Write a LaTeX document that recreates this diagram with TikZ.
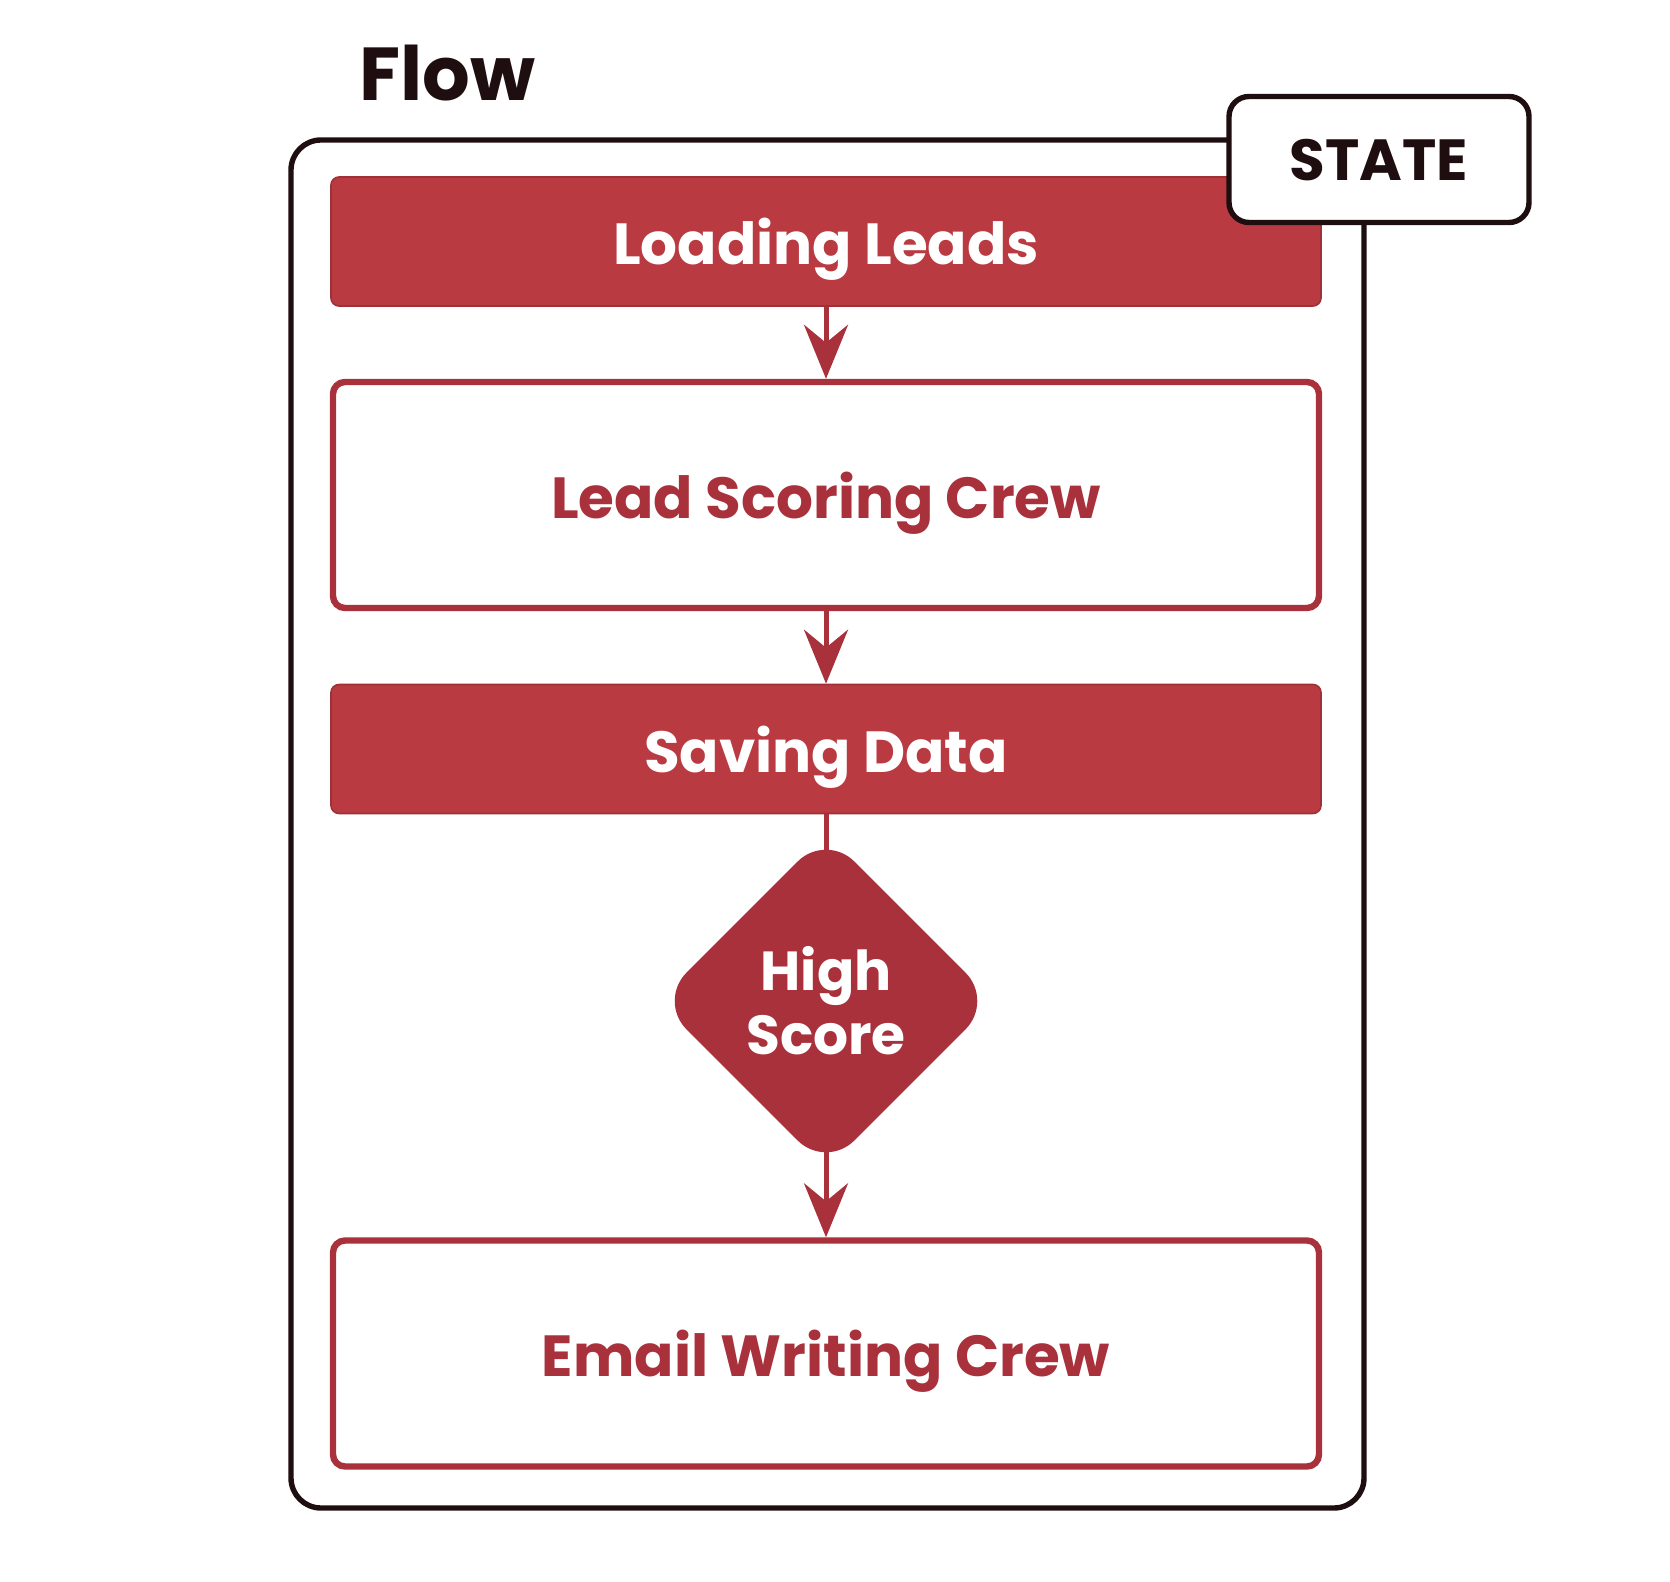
\documentclass[tikz,border=0pt]{standalone}
\usepackage{fontspec}
\setmainfont{Poppins}
\usetikzlibrary{shapes.geometric,arrows.meta}
\definecolor{boxred}{HTML}{BA3A42}
\definecolor{diared}{HTML}{A8313B}
\definecolor{txtred}{HTML}{A8313B}
\definecolor{ink}{HTML}{1E0E10}
\tikzset{
  fillbox/.style={rectangle, rounded corners=4pt, fill=boxred, draw=boxred!85!black, line width=0.8pt,
    minimum width=495pt, minimum height=64.5pt, text=white, text depth=0pt,
    font=\bfseries\fontsize{29}{34}\selectfont},
  crewbox/.style={rectangle, rounded corners=6pt, fill=white, draw=txtred, line width=3.2pt,
    minimum width=493pt, minimum height=113pt, text=txtred, text depth=0pt,
    font=\bfseries\fontsize{29}{34}\selectfont},
  decision/.style={diamond, aspect=1, rounded corners=20pt, fill=diared, inner sep=0pt,
    minimum width=168pt, minimum height=168pt, text=white, align=center,
    font=\bfseries\fontsize{27.5}{32}\selectfont},
  flowarrow/.style={draw=txtred, line width=2.5pt, -{Stealth[length=27pt, width=22pt, inset=9pt]}},
  flowline/.style={draw=txtred, line width=2.5pt},
  framebox/.style={draw=ink, line width=2.7pt, rounded corners=15pt},
}
\begin{document}
\begin{tikzpicture}[x=0.5pt, y=-0.5pt]
\useasboundingbox (0,0) rectangle (1670,1582);
\node[anchor=west, inner sep=0pt, text depth=0pt, text=ink, font=\bfseries\fontsize{37.5}{42}\selectfont] (flow) at (359,73) {Flow};
\draw[framebox] (291,140) rectangle (1364,1508);
\node[fillbox] (load) at (826,241.5) {Loading Leads};
\node[crewbox] (score) at (826,495) {Lead Scoring Crew};
\node[fillbox] (save) at (826,749) {Saving Data};
\node[decision] (high) at (826,1001) {High\\Score};
\node[crewbox] (email) at (826,1353.5) {Email Writing Crew};
\node[rectangle, draw=ink, fill=white, line width=2.7pt, rounded corners=10pt,
  minimum width=150pt, minimum height=63pt, text=ink, text depth=0pt,
  font=\bfseries\fontsize{29}{34}\selectfont] (state) at (1379,159.5) {STATE};
\draw[flowarrow] (load.south) -- (score.north);
\draw[flowarrow] (score.south) -- (save.north);
\draw[flowline, shorten >=-22pt] (save.south) -- (high.north);
\draw[flowarrow, shorten <=-22pt] (high.south) -- (email.north);
\end{tikzpicture}
\end{document}
